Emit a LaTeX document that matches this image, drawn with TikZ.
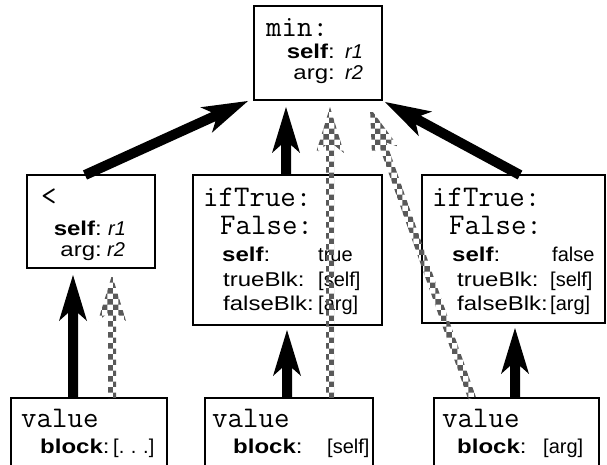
\documentclass[tikz,border=0pt]{standalone}
\usepackage{fontspec}
\setmainfont{Liberation Sans}
\newfontfamily\hv[FakeStretch=1.2]{Liberation Sans}
\newfontfamily\hvn{Liberation Sans}
\usetikzlibrary{calc,patterns}

\tikzset{
  box/.style={draw, line width=2.8pt, fill=white, anchor=north west, inner sep=0pt, outer sep=0pt},
  mono/.style={anchor=base west, inner sep=0pt, font=\ttfamily\fontsize{30}{30}\selectfont},
  lbl/.style={anchor=base west, inner sep=0pt, font=\hv\fontsize{20}{20}\selectfont},
  lblr/.style={lbl, anchor=base east},
  val/.style={anchor=base west, inner sep=0pt, font=\hvn\fontsize{20}{20}\selectfont},
  solidarr/.style={fill=black},
  patarr/.style={pattern=checkerboard, pattern color=black!65},
}

\newcommand\fatarrow[4]{%
  \coordinate (fa-h) at ($(#3)!46pt!(#2)$);
  \coordinate (fa-i) at ($(#3)!38pt!(#2)$);
  \path[#1] ($(#2)!#4!90:(#3)$) -- ($(fa-i)!#4!90:(#3)$)
     -- ($(fa-h)!14pt!90:(#3)$) -- (#3) -- ($(fa-h)!14pt!-90:(#3)$)
     -- ($(fa-i)!#4!-90:(#3)$) -- ($(#2)!#4!-90:(#3)$) -- cycle;
}

\begin{document}
\begin{tikzpicture}[x=1pt, y=-1pt]
\fill[white] (0,0) rectangle (607,465);
\useasboundingbox (0,0) rectangle (607,465);
\clip (0,0) rectangle (607,465);

% boxes
\node[box, minimum width=128pt, minimum height=94pt] (T) at (254,6) {};
\node[box, minimum width=128pt, minimum height=93pt] (L) at (27,175) {};
\node[box, minimum width=189pt, minimum height=150pt] (M) at (193,175) {};
\node[box, minimum width=183pt, minimum height=148pt] (R) at (422,175) {};
\node[box, minimum width=156pt, minimum height=90pt] (BL) at (11,398) {};
\node[box, minimum width=168pt, minimum height=90pt] (BM) at (205,398) {};
\node[box, minimum width=165pt, minimum height=90pt] (BR) at (434,398) {};

% top box text
\node[mono] (t0) at (266,37) {min:};
\node[lblr] (t1) at (335,59) {{\bfseries self}:};
\node[val] (t2) at (345,59) {\itshape r1};
\node[lblr] (t3) at (335,80) {arg:};
\node[val] (t4) at (345,80) {\itshape r2};

% < box text
\node[mono] (l0) at (41,205) {<};
\node[lblr] (l1) at (102,235) {{\bfseries self}:};
\node[val] (l2) at (108,235) {\itshape r1};
\node[lblr] (l3) at (102,256) {arg:};
\node[val] (l4) at (107,256) {\itshape r2};

% middle ifTrue box text
\node[mono] (m0) at (203,206) {ifTrue:};
\node[mono] (m1) at (220,234) {False:};
\node[lbl] (m2) at (222,261) {{\bfseries self}:};
\node[val] (m3) at (318,261) {true};
\node[lbl] (m4) at (223,286) {trueBlk:};
\node[val] (m5) at (318,286) {[self]};
\node[lbl] (m6) at (223,310) {falseBlk:};
\node[val] (m7) at (318,310) {[arg]};

% right ifTrue box text
\node[mono] (r0) at (432,206) {ifTrue:};
\node[mono] (r1) at (449,234) {False:};
\node[lbl] (r2) at (452,261) {{\bfseries self}:};
\node[val] (r3) at (552,261) {false};
\node[lbl] (r4) at (457,286) {trueBlk:};
\node[val] (r5) at (550,286) {[self]};
\node[lbl] (r6) at (457,310) {falseBlk:};
\node[val] (r7) at (550,310) {[arg]};

% bottom boxes text
\node[mono] (bl0) at (21,427) {value};
\node[lbl] (bl1) at (40,453) {{\bfseries block}:};
\node[val] (bl2) at (113,453) {[.\,\,.\,\,.]};
\node[mono] (bm0) at (212,427) {value};
\node[lbl] (bm1) at (233,453) {{\bfseries block}:};
\node[val] (bm2) at (327,453) {[self]};
\node[mono] (br0) at (442,427) {value};
\node[lbl] (br1) at (457,453) {{\bfseries block}:};
\node[val] (br2) at (543,453) {[arg]};

% arrow end points
\coordinate (a1s) at ($(L.north west)+(58,0)$);
\coordinate (a1e) at ($(T.south west)+(-6,1)$);
\coordinate (a2s) at ($(M.north west)+(93,0)$);
\coordinate (a2e) at ($(T.south west)+(32,7)$);
\coordinate (a3s) at ($(R.north west)+(98,0)$);
\coordinate (a3e) at ($(T.south east)+(3,2)$);
\coordinate (a4s) at ($(BM.north west)+(125,0)$);
\coordinate (a4e) at ($(T.south west)+(76,7)$);
\coordinate (a5s) at ($(BR.north west)+(38,0)$);
\coordinate (a5e) at ($(T.south west)+(116,8)$);
\coordinate (a6s) at ($(BL.north west)+(62,0)$);
\coordinate (a6e) at ($(L.south west)+(46,7)$);
\coordinate (a7s) at ($(BL.north west)+(101,0)$);
\coordinate (a7e) at ($(L.south west)+(85,7)$);
\coordinate (a8s) at ($(BM.north west)+(82,0)$);
\coordinate (a8e) at ($(M.south west)+(94,5)$);
\coordinate (a9s) at ($(BR.north west)+(81,0)$);
\coordinate (a9e) at ($(R.south west)+(93,5)$);

% arrows
\fatarrow{solidarr}{a1s}{a1e}{5pt}
\fatarrow{solidarr}{a2s}{a2e}{5pt}
\fatarrow{solidarr}{a3s}{a3e}{5pt}
\fatarrow{solidarr}{a6s}{a6e}{5pt}
\fatarrow{solidarr}{a8s}{a8e}{5pt}
\fatarrow{solidarr}{a9s}{a9e}{5pt}
\fatarrow{patarr}{a4s}{a4e}{4pt}
\fatarrow{patarr}{a5s}{a5e}{4pt}
\fatarrow{patarr}{a7s}{a7e}{4pt}
\end{tikzpicture}
\end{document}
